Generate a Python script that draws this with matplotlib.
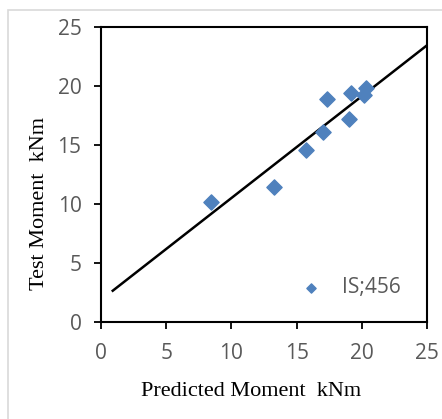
import matplotlib.pyplot as plt
from matplotlib.patches import Rectangle

# data
predicted = [8.4, 13.3, 15.7, 17.0, 17.3, 19.0, 19.2, 20.2, 20.3]
test = [10.2, 11.4, 14.6, 16.1, 18.9, 17.2, 19.4, 19.2, 19.8]
line_x = [0.9, 25.0]
line_y = [2.65, 23.45]
ticks = [0, 5, 10, 15, 20, 25]

gray = '#595959'
blue = '#4f81bd'

fig = plt.figure(figsize=(4.42, 4.19), dpi=100)
fig.patches.append(Rectangle((8 / 442, -0.1), 1, 1.1 - 10 / 419, transform=fig.transFigure,
                             fill=False, edgecolor='#d9d9d9', linewidth=1.2))
ax = fig.add_axes([101 / 442, 97 / 419, 326 / 442, 295 / 419])

ax.scatter(predicted, test, marker='D', s=60, color=blue, zorder=3)
ax.plot(line_x, line_y, color='black', linewidth=1.8)

# legend entry drawn inside the plot
ax.scatter([16.1], [2.9], marker='D', s=22, color=blue)
ax.text(18.5, 2.9, 'IS;456', color=gray, fontsize=15, family='Open Sans', va='center')

ax.set_xlim(0, 25)
ax.set_ylim(0, 25)
ax.set_xticks(ticks)
ax.set_yticks(ticks)
ax.tick_params(direction='out', length=5, width=1.3, colors='black', labelcolor=gray,
               labelsize=15)
ax.tick_params(axis='x', pad=10)
ax.tick_params(axis='y', pad=9)
for lab in ax.get_xticklabels() + ax.get_yticklabels():
    lab.set_family('Open Sans')
for s in ax.spines.values():
    s.set_linewidth(1.5)

ax.set_xlabel('Predicted Moment  kNm', family='Liberation Serif', fontsize=16)
ax.set_ylabel('Test Moment  kNm', family='Liberation Serif', fontsize=16)
ax.xaxis.set_label_coords(0.46, -0.202)
ax.yaxis.set_label_coords(-0.16, 0.40)

fig.savefig('out.png', dpi=100)
